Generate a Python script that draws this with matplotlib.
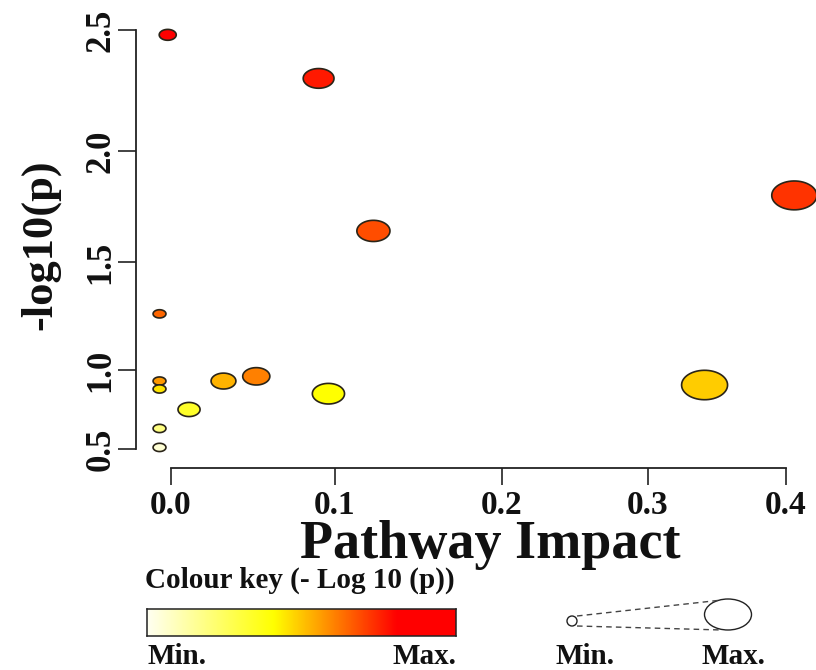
import matplotlib
matplotlib.use("Agg")
import matplotlib.pyplot as plt
import numpy as np
from matplotlib.path import Path
from matplotlib.patches import Ellipse
from matplotlib.colors import LinearSegmentedColormap, hsv_to_rgb

# data (pathway impact, -log10(p), relative circle size)
impact = [-0.002, 0.090, 0.123, -0.007, -0.007, -0.007, 0.032, 0.052,
          0.096, 0.011, -0.007, -0.007, 0.406, 0.341]
neglogp = [2.48, 2.30, 1.64, 1.26, 0.93, 0.88, 0.93, 0.96,
           0.85, 0.75, 0.63, 0.51, 1.80, 0.905]
circle_size = [0.37, 0.67, 0.72, 0.28, 0.28, 0.28, 0.54, 0.59,
               0.70, 0.48, 0.28, 0.28, 0.98, 1.00]

x_ticks = [0.0, 0.1, 0.2, 0.3, 0.4]
y_ticks = [0.5, 1.0, 1.5, 2.0, 2.5]

# the reference axes are unevenly stretched: where each tick sits (pixels)
x_tick_px = [171, 335, 502, 648, 786]
y_tick_px = [-449, -370, -262, -151, -30]

W, H = 816, 670
font = dict(family="Liberation Serif", weight="bold", color="#111111")


def warp(kv, kp):
    kv = np.asarray(kv, float)
    kp = np.asarray(kp, float)

    def go(v, a, b):
        v = np.asarray(v, float)
        out = np.interp(v, a, b)
        lo = (b[1] - b[0]) / (a[1] - a[0])
        hi = (b[-1] - b[-2]) / (a[-1] - a[-2])
        out = np.where(v < a[0], b[0] + (v - a[0]) * lo, out)
        out = np.where(v > a[-1], b[-1] + (v - a[-1]) * hi, out)
        return out
    return (lambda v: go(v, kv, kp)), (lambda p: go(p, kp, kv))


def heat_colors(n):
    # same as R's heat.colors(n)
    j = n // 4
    i = n - j
    hues = np.linspace(0, 1 / 6, i)
    cols = [hsv_to_rgb([h, 1, 1]) for h in hues]
    for s in np.linspace(1 - 1 / (2 * j), 1 / (2 * j), j):
        cols.append(hsv_to_rgb([1 / 6, s, 1]))
    return cols


fig = plt.figure(figsize=(W / 100, H / 100), dpi=100)
ax = fig.add_axes([136 / W, 1 - 468 / H, 680 / W, 468 / H])

fx, ix = warp(x_ticks, x_tick_px)
fy, iy = warp(y_ticks, y_tick_px)
ax.set_xscale("function", functions=(fx, ix))
ax.set_yscale("function", functions=(fy, iy))
ax.set_xlim(float(ix(136)), float(ix(816)))
ax.set_ylim(float(iy(-468)), float(iy(0)))

# colour by rank of -log10(p), highest = red
order = np.argsort(neglogp)[::-1]
heat = heat_colors(len(neglogp))
colors = [None] * len(neglogp)
for r, k in enumerate(order):
    colors[k] = heat[r]

t = np.linspace(0, 2 * np.pi, 60)
oval = Path(np.column_stack([np.cos(t), 0.64 * np.sin(t)]), closed=True)
sizes = (np.array(circle_size) * 46 * 0.72) ** 2
ax.scatter(impact, neglogp, s=sizes, c=colors, marker=oval,
           edgecolors="#2a2418", linewidths=1.2, clip_on=False, zorder=3)

for side in ["top", "right"]:
    ax.spines[side].set_visible(False)
ax.spines["left"].set_bounds(0.5, 2.5)
ax.spines["bottom"].set_bounds(0.0, 0.4)
for side in ["left", "bottom"]:
    ax.spines[side].set_linewidth(1.3)
    ax.spines[side].set_color("#222222")

ax.set_xticks(x_ticks)
ax.set_xticklabels([f"{v:.1f}" for v in x_ticks], **font, fontsize=24)
ax.set_yticks(y_ticks)
ax.set_yticklabels([f"{v:.1f}" for v in y_ticks], **font, fontsize=25,
                   rotation=90, va="center")
ax.minorticks_off()
ax.tick_params(axis="x", length=12.5, width=1.2, pad=3.5, color="#222222")
ax.tick_params(axis="y", length=13, width=1.2, pad=0.5, color="#222222")

# overlay in pixel coordinates for titles and keys
ov = fig.add_axes([0, 0, 1, 1])
ov.set_xlim(0, W)
ov.set_ylim(H, 0)
ov.axis("off")
ov.patch.set_visible(False)

ov.text(490, 558, "Pathway Impact", ha="center", va="baseline", fontsize=39, **font)
ov.text(40, 245, "-log10(p)", ha="center", va="center", rotation=90,
        fontsize=32, **font)
ov.text(145, 580, "Colour key (- Log 10 (p))", ha="left", va="center",
        fontsize=21, **font)

# colour key bar
cax = fig.add_axes([147 / W, 1 - 636 / H, 309 / W, 27 / H])
key = LinearSegmentedColormap.from_list(
    "key", [(0, "#fffff2"), (0.41, "#ffff00"), (0.59, "#ff8c00"),
            (0.81, "#ff0000"), (1, "#ff0000")])
cax.imshow(np.linspace(0, 1, 256)[None, :], aspect="auto", cmap=key)
cax.set_xticks([])
cax.set_yticks([])
for s in cax.spines.values():
    s.set_linewidth(1.1)
    s.set_color("#222222")
ov.text(147, 657, "Min.", ha="left", va="center", fontsize=21, **font)
ov.text(456, 657, "Max.", ha="right", va="center", fontsize=21, **font)

# size key
ov.add_patch(Ellipse((572, 621), 10, 10, fill=False, lw=1.0, ec="#222222"))
ov.add_patch(Ellipse((728, 614.5), 47, 31, fill=False, lw=1.0, ec="#222222"))
ov.plot([577, 722], [616, 600], ls=(0, (4, 3)), lw=1.0, color="#444444")
ov.plot([577, 722], [626, 630], ls=(0, (4, 3)), lw=1.0, color="#444444")
ov.text(585, 657, "Min.", ha="center", va="center", fontsize=21, **font)
ov.text(733, 657, "Max.", ha="center", va="center", fontsize=21, **font)

fig.savefig("out.png", dpi=100)
